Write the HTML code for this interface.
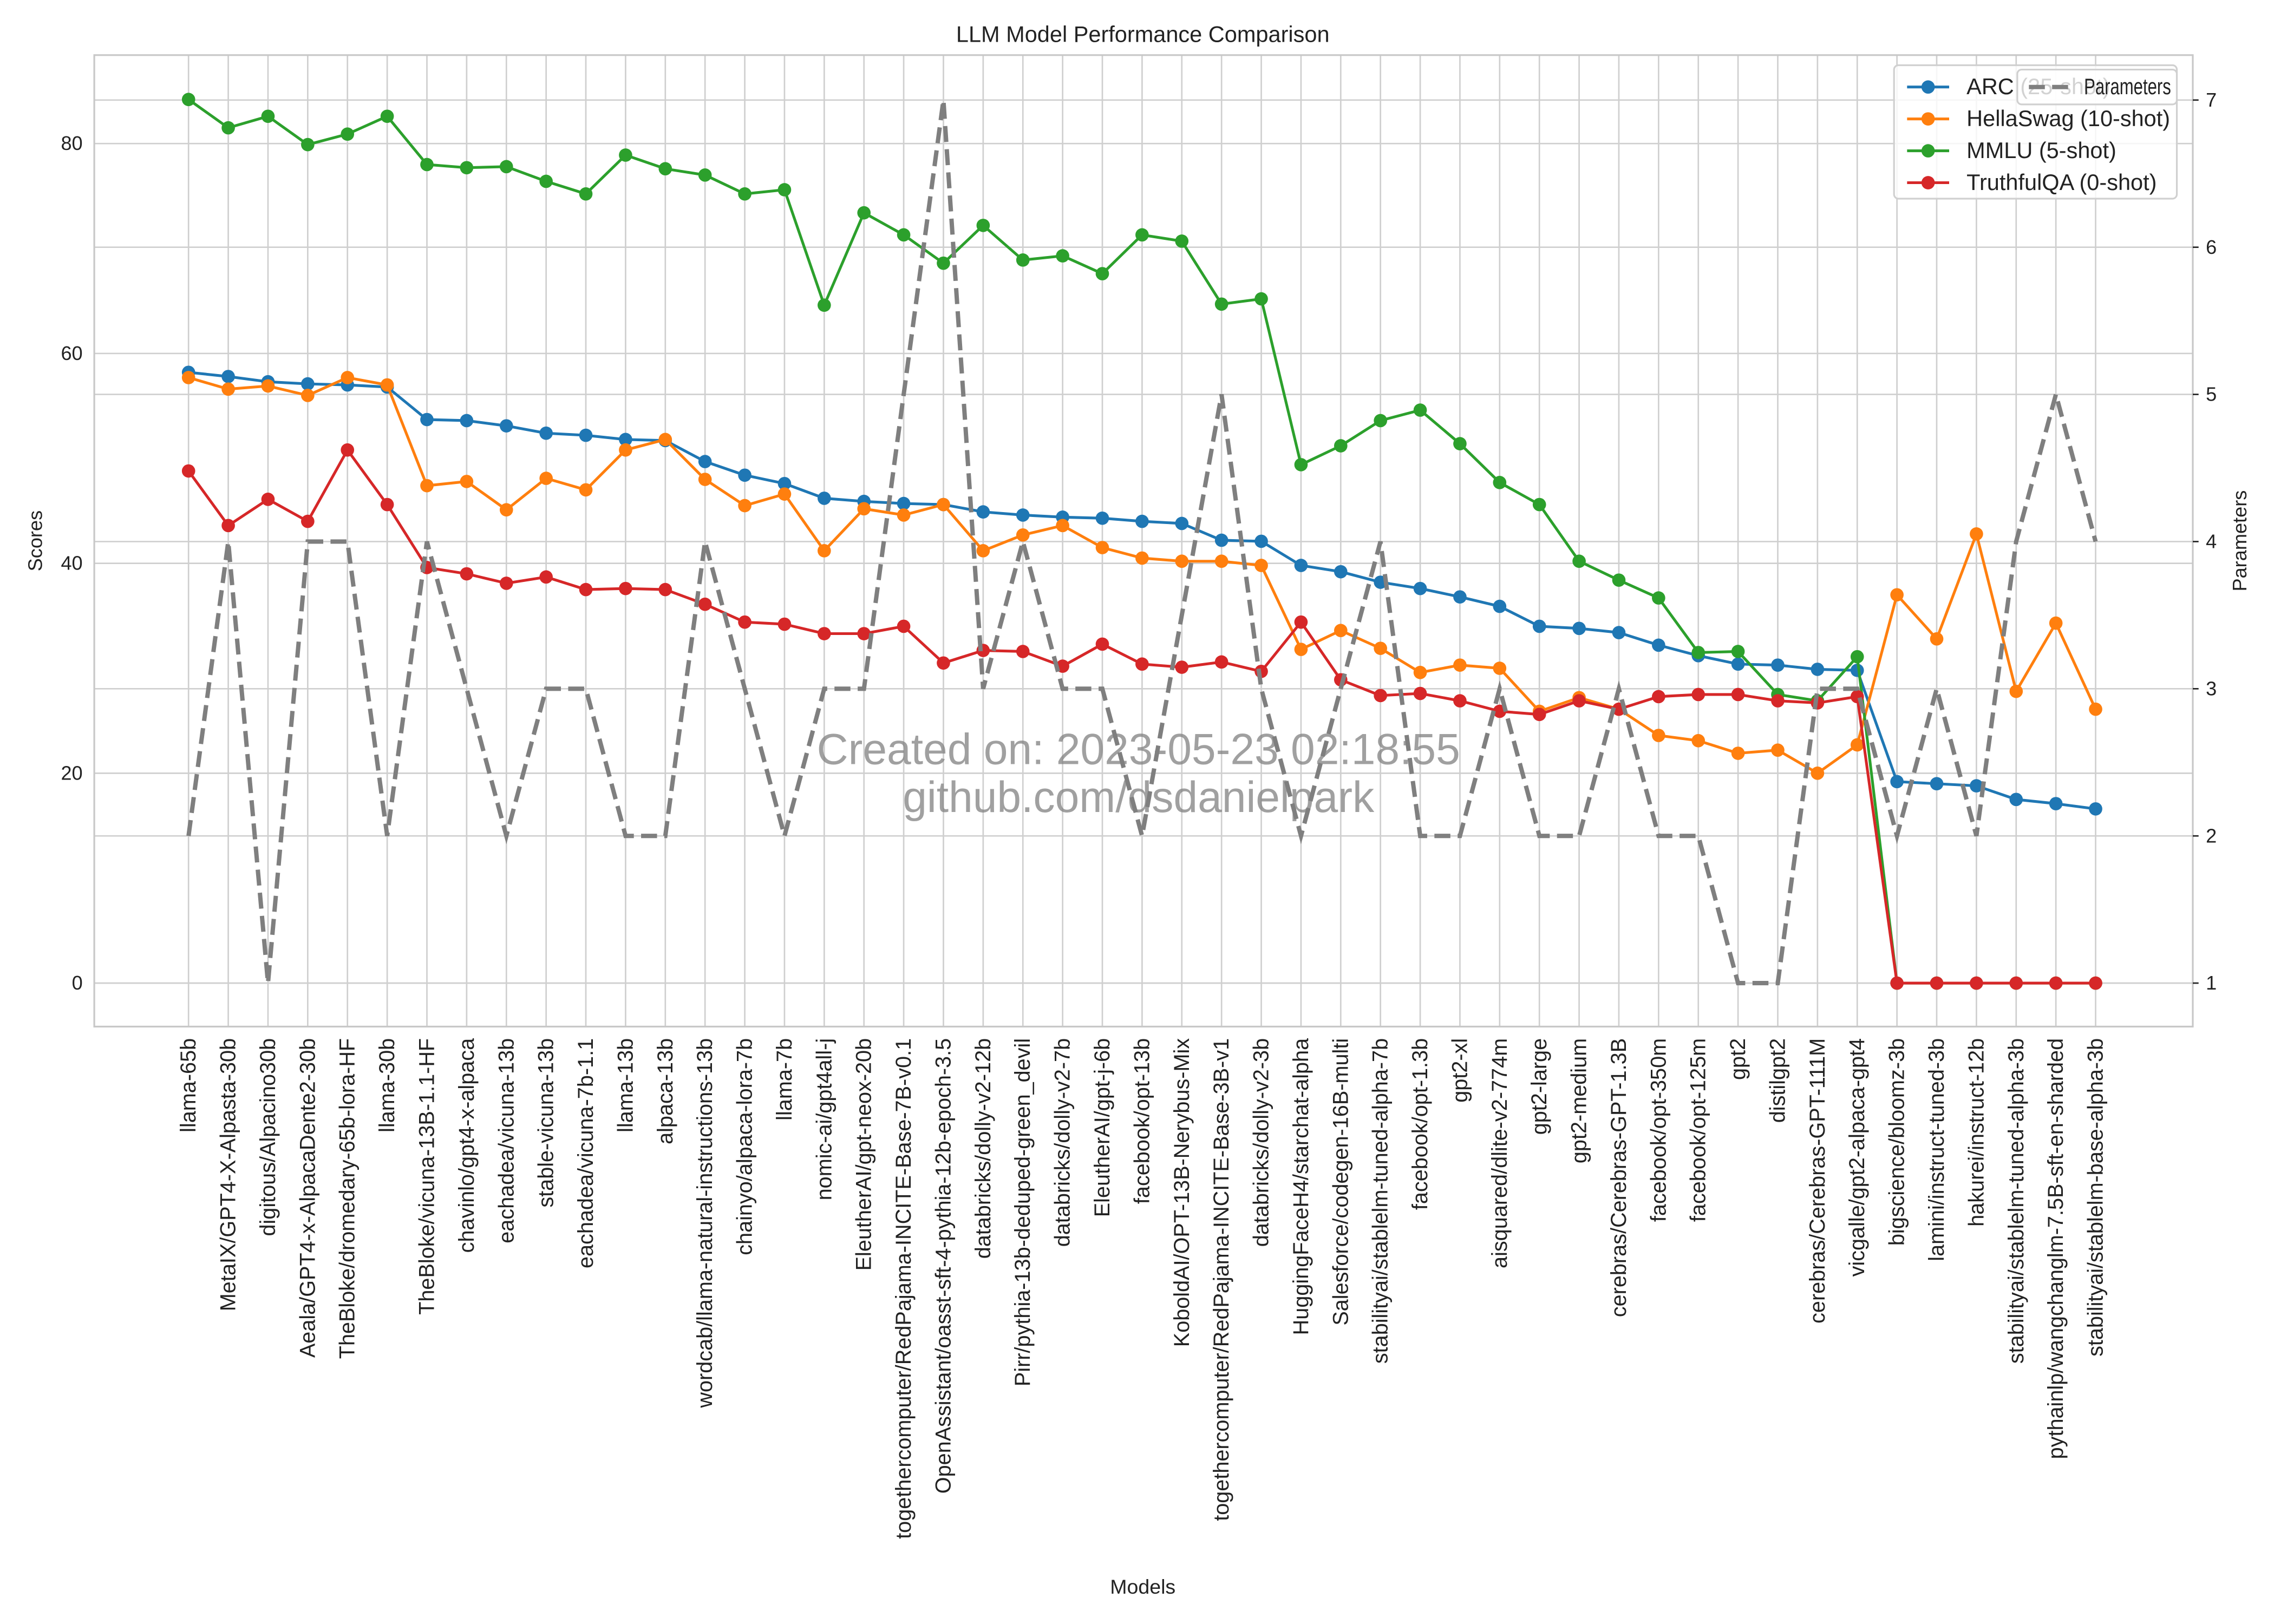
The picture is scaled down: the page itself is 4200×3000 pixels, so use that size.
<!DOCTYPE html>
<html><head><meta charset="utf-8"><style>
html,body{margin:0;padding:0;background:#fff;}
svg{display:block;font-family:"Liberation Sans",Arial,sans-serif;}
</style></head><body>
<svg id="chart" width="4200" height="3000" viewBox="0 0 1568 1120" xmlns="http://www.w3.org/2000/svg">
<rect x="0" y="0" width="1568" height="1120" fill="#fff"/>
<text x="788" y="29" font-size="15.5" text-anchor="middle" fill="#222">LLM Model Performance Comparison</text>
<g id="grid"></g>
<text x="785" y="527" font-size="30" text-anchor="middle" fill="#808080" fill-opacity="0.75">Created on: 2023-05-23 02:18:55</text>
<text x="785" y="560" font-size="30" text-anchor="middle" fill="#808080" fill-opacity="0.75">github.com/dsdanielpark</text>
<g id="series"></g>
<g id="params"></g>
<rect x="65" y="38" width="1447" height="670" fill="none" stroke="#c8c8c8" stroke-width="1.2"/>
<g id="axes"></g>
<g id="legend"></g>
</svg>
<script>
const models = ["llama-65b","MetaIX/GPT4-X-Alpasta-30b","digitous/Alpacino30b","Aeala/GPT4-x-AlpacaDente2-30b","TheBloke/dromedary-65b-lora-HF","llama-30b","TheBloke/vicuna-13B-1.1-HF","chavinlo/gpt4-x-alpaca","eachadea/vicuna-13b","stable-vicuna-13b","eachadea/vicuna-7b-1.1","llama-13b","alpaca-13b","wordcab/llama-natural-instructions-13b","chainyo/alpaca-lora-7b","llama-7b","nomic-ai/gpt4all-j","EleutherAI/gpt-neox-20b","togethercomputer/RedPajama-INCITE-Base-7B-v0.1","OpenAssistant/oasst-sft-4-pythia-12b-epoch-3.5","databricks/dolly-v2-12b","Pirr/pythia-13b-deduped-green_devil","databricks/dolly-v2-7b","EleutherAI/gpt-j-6b","facebook/opt-13b","KoboldAI/OPT-13B-Nerybus-Mix","togethercomputer/RedPajama-INCITE-Base-3B-v1","databricks/dolly-v2-3b","HuggingFaceH4/starchat-alpha","Salesforce/codegen-16B-multi","stabilityai/stablelm-tuned-alpha-7b","facebook/opt-1.3b","gpt2-xl","aisquared/dlite-v2-774m","gpt2-large","gpt2-medium","cerebras/Cerebras-GPT-1.3B","facebook/opt-350m","facebook/opt-125m","gpt2","distilgpt2","cerebras/Cerebras-GPT-111M","vicgalle/gpt2-alpaca-gpt4","bigscience/bloomz-3b","lamini/instruct-tuned-3b","hakurei/instruct-12b","stabilityai/stablelm-tuned-alpha-3b","pythainlp/wangchanglm-7.5B-sft-en-sharded","stabilityai/stablelm-base-alpha-3b"];
const arc = [58.2,57.8,57.3,57.1,57.0,56.8,53.7,53.6,53.1,52.4,52.2,51.8,51.7,49.7,48.4,47.6,46.2,45.9,45.7,45.6,44.9,44.6,44.4,44.3,44.0,43.8,42.2,42.1,39.8,39.2,38.2,37.6,36.8,35.9,34.0,33.8,33.4,32.2,31.2,30.4,30.3,29.9,29.8,19.2,19.0,18.8,17.5,17.1,16.6];
const hellaswag = [57.7,56.6,56.9,56.0,57.7,57.0,47.4,47.8,45.1,48.1,47.0,50.8,51.8,48.0,45.5,46.6,41.2,45.2,44.6,45.6,41.2,42.7,43.6,41.5,40.5,40.2,40.2,39.8,31.8,33.6,31.9,29.6,30.3,30.0,25.9,27.2,26.1,23.6,23.1,21.9,22.2,20.0,22.7,37.0,32.8,42.8,27.8,34.3,26.1];
const mmlu = [84.2,81.5,82.6,79.9,80.9,82.6,78.0,77.7,77.8,76.4,75.2,78.9,77.6,77.0,75.2,75.6,64.6,73.4,71.3,68.6,72.2,68.9,69.3,67.6,71.3,70.7,64.7,65.2,49.4,51.2,53.6,54.6,51.4,47.7,45.6,40.2,38.4,36.7,31.5,31.6,27.5,26.9,31.1,0,0,0,0,0,0];
const truthfulqa = [48.8,43.6,46.1,44.0,50.8,45.6,39.6,39.0,38.1,38.7,37.5,37.6,37.5,36.1,34.4,34.2,33.3,33.3,34.0,30.5,31.7,31.6,30.2,32.3,30.4,30.1,30.6,29.7,34.4,28.9,27.4,27.6,26.9,25.9,25.6,26.9,26.1,27.3,27.5,27.5,26.9,26.7,27.3,0,0,0,0,0,0];
const parameters = [2,4,1,4,4,2,4,3,2,3,3,2,2,4,3,2,3,3,5,7,3,4,3,3,2,3.5,5,3,2,3,4,2,2,3,2,2,3,2,2,1,1,3,3,2,3,2,4,5,4];
const scoreTicks = [0,20,40,60,80];
const paramTicks = [1,2,3,4,5,6,7];

const NS = "http://www.w3.org/2000/svg";
const L=65,R=1512,T=38,B=708;
const xPos = i => 130 + i*(1445-130)/(models.length-1);
const yScore = v => 678 - v*(678-99)/80;
const yParam = v => 678 - (v-1)*(678-69)/6;
function mk(tag, attrs, parent){const e=document.createElementNS(NS,tag);for(const k in attrs)e.setAttribute(k,attrs[k]);parent.appendChild(e);return e;}

const grid=document.getElementById('grid');
models.forEach((m,i)=>{
  const l=mk('line',{x1:xPos(i),x2:xPos(i),y1:T,y2:B,stroke:'#cfcfcf','stroke-width':1},grid);
  
  
});
scoreTicks.forEach(v=>{
  const l=mk('line',{x1:L,x2:R,y1:yScore(v),y2:yScore(v),stroke:'#cfcfcf','stroke-width':1},grid);
  
  
});
paramTicks.forEach(v=>{
  const l=mk('line',{x1:L,x2:R,y1:yParam(v),y2:yParam(v),stroke:'#cfcfcf','stroke-width':1},grid);
  
  
});

const axes=document.getElementById('axes');
scoreTicks.forEach(v=>{
  const t=mk('text',{x:57,y:yScore(v)+4.5,'font-size':13.5,'text-anchor':'end',fill:'#222'},axes);
  t.textContent=v;
  
  
});
paramTicks.forEach(v=>{
  mk('line',{x1:R,x2:R+4,y1:yParam(v),y2:yParam(v),stroke:'#222','stroke-width':1},axes);
  const t=mk('text',{x:1521,y:yParam(v)+4.5,'font-size':13.5,fill:'#222'},axes);
  t.textContent=v;
  
  
});
models.forEach((m,i)=>{
  const t=mk('text',{x:0,y:0,'font-size':14.8,'text-anchor':'end','dominant-baseline':'central',fill:'#222',transform:`translate(${xPos(i)},716) rotate(-90)`},axes);
  t.textContent=m;
  
  
});
let t=mk('text',{x:0,y:0,'font-size':13.5,'text-anchor':'middle',fill:'#222',transform:'translate(29,373) rotate(-90)'},axes);
t.textContent='Scores';


t=mk('text',{x:0,y:0,'font-size':13.5,'text-anchor':'middle',fill:'#222',transform:'translate(1549,373) rotate(-90)'},axes);
t.textContent='Parameters';


t=mk('text',{x:788,y:1099,'font-size':14,'text-anchor':'middle',fill:'#222'},axes);
t.textContent='Models';



const series=[
  {name:'ARC (25-shot)',data:arc,color:'#1f77b4',key:'arc'},
  {name:'HellaSwag (10-shot)',data:hellaswag,color:'#ff7f0e',key:'hellaswag'},
  {name:'MMLU (5-shot)',data:mmlu,color:'#2ca02c',key:'mmlu'},
  {name:'TruthfulQA (0-shot)',data:truthfulqa,color:'#d62728',key:'truthfulqa'}
];
const sg=document.getElementById('series');
series.forEach(s=>{
  const g=mk('g',{},sg);
  
  
  const p=mk('polyline',{points:s.data.map((v,i)=>xPos(i)+','+yScore(v)).join(' '),fill:'none',stroke:s.color,'stroke-width':1.9,'stroke-linejoin':'round'},g);
  
  
  s.data.forEach((v,i)=>{
    const c=mk('circle',{cx:xPos(i),cy:yScore(v),r:4.6,fill:s.color},g);
    
    
  });
});
const pg=document.getElementById('params');
const pl=mk('polyline',{points:parameters.map((v,i)=>xPos(i)+','+yParam(v)).join(' '),fill:'none',stroke:'#7f7f7f','stroke-width':3,'stroke-dasharray':'11,5'},pg);



const lg=document.getElementById('legend');
const box=mk('rect',{x:1306,y:45,width:195,height:92,rx:3,fill:'#fff','fill-opacity':0.8,stroke:'#d0d0d0','stroke-width':1.2},lg);


series.forEach((s,k)=>{
  const y=60+k*22;
  const g=mk('g',{},lg);
  
  
  mk('line',{x1:1315,x2:1344,y1:y,y2:y,stroke:s.color,'stroke-width':1.9},g);
  mk('circle',{cx:1329.5,cy:y,r:4.6,fill:s.color},g);
  const tx=mk('text',{x:1356,y:y+5,'font-size':15.5,fill:'#222'},g);
  tx.textContent=s.name;
});
const pbox=mk('rect',{x:1391,y:48,width:110,height:24,rx:3,fill:'#fff','fill-opacity':0.8,stroke:'#d0d0d0','stroke-width':1.2},lg);


const pgL=mk('g',{},lg);


mk('line',{x1:1399,x2:1428,y1:60,y2:60,stroke:'#7f7f7f','stroke-width':3,'stroke-dasharray':'11,5'},pgL);
const ptx=mk('text',{x:1437,y:65,'font-size':15.5,fill:'#222',textLength:60,lengthAdjust:'spacingAndGlyphs'},pgL);
ptx.textContent='Parameters';
</script>
</body></html>
